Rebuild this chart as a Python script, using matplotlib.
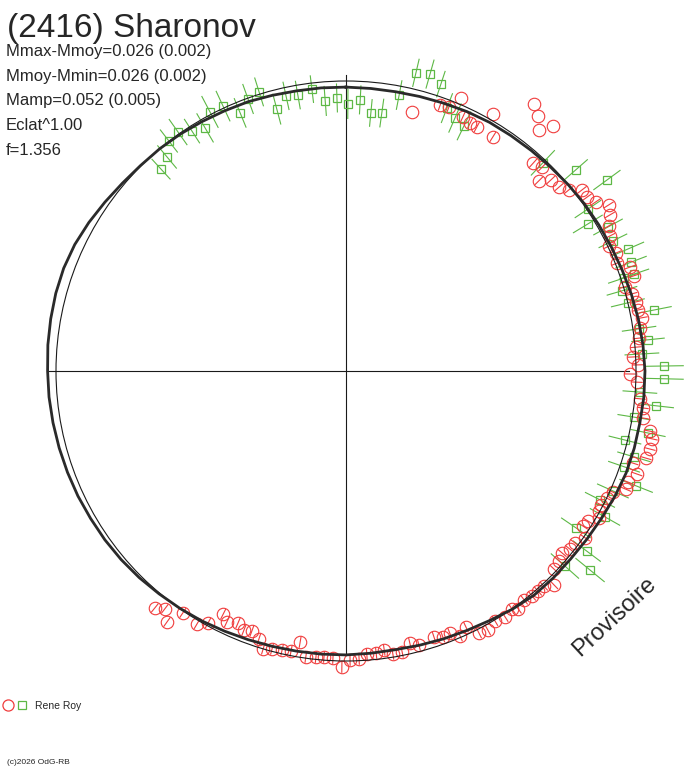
import numpy as np
import matplotlib
matplotlib.use("Agg")
import matplotlib.pyplot as plt
from matplotlib.collections import LineCollection
from matplotlib.legend_handler import HandlerTuple
from matplotlib.lines import Line2D
from matplotlib.patches import Circle

plt.rcParams['font.family'] = ['Liberation Sans', 'DejaVu Sans']

# phase as angle in degrees (clockwise from top), dmag = radial deviation in mag
fit_phase = [0, 5, 10, 15, 20, 25, 30, 35, 40, 45, 50, 55, 60, 65, 70, 75, 80, 85,
             90, 95, 100, 105, 110, 115, 120, 125, 130, 135, 140, 145, 150, 155, 160, 165, 170, 175,
             180, 185, 190, 195, 200, 205, 210, 215, 220, 225, 230, 235, 240, 245, 250, 255, 260, 265,
             270, 275, 280, 285, 290, 295, 300, 305, 310, 315, 320, 325, 330, 335, 340, 345, 350, 355]
fit_dmag = [-0.021, -0.022, -0.022, -0.020, -0.017, -0.013, -0.010, -0.009, -0.007, -0.004,
            0.000, 0.004, 0.007, 0.010, 0.014, 0.019, 0.024, 0.028, 0.031, 0.031,
            0.029, 0.029, 0.028, 0.023, 0.017, 0.013, 0.010, 0.010, 0.009, 0.002,
            -0.007, -0.013, -0.017, -0.021, -0.024, -0.023, -0.021, -0.020, -0.019, -0.017,
            -0.014, -0.010, -0.005, -0.001, 0.003, 0.008, 0.012, 0.015, 0.017, 0.020,
            0.022, 0.024, 0.026, 0.028, 0.029, 0.032, 0.034, 0.036, 0.036, 0.032,
            0.024, 0.015, 0.007, 0.002, 0.000, -0.003, -0.007, -0.010, -0.012, -0.016,
            -0.019, -0.020]

# green squares
g_phase = [317.5, 320.1, 322.4, 324.9, 327.3, 329.9, 332.3, 335.1, 337.7, 340.2,
           342.7, 345.2, 347.7, 350.1, 353.1, 355.6, 358.1, 0.4, 3.0, 5.5,
           7.9, 10.9, 13.2, 15.8, 18.3, 21.0, 23.3, 25.7, 43.4, 48.8,
           53.8, 56.2, 58.7, 61.2, 64.0, 66.6, 69.1, 71.4, 71.5, 73.8,
           76.4, 78.8, 81.8, 84.1, 86.7, 89.1, 91.4, 94.1, 96.4, 99.1,
           101.6, 103.9, 106.6, 109.0, 111.6, 114.2, 116.9, 119.4, 124.3, 126.8,
           131.7, 129.2]
g_dmag = [-0.056, -0.038, 0.001, 0.007, -0.017, -0.031, 0.009, 0.007, -0.038, -0.003,
          0.008, -0.066, -0.029, -0.034, -0.021, -0.066, -0.058, -0.079, -0.064, -0.106,
          -0.102, -0.031, 0.056, 0.064, 0.042, -0.029, -0.050, -0.062, -0.012, 0.053,
          0.115, 0.004, -0.024, 0.031, 0.024, 0.060, 0.052, 0.048, 0.011, -0.009,
          0.000, 0.083, 0.021, 0.047, 0.022, 0.097, 0.097, 0.016, 0.076, 0.006,
          0.063, -0.009, 0.036, 0.014, 0.076, 0.009, -0.018, 0.025, -0.040, 0.037,
          0.011, 0.086]
g_err = [0.048, 0.052, 0.050, 0.055, 0.050, 0.058, 0.062, 0.058, 0.055, 0.055,
         0.052, 0.055, 0.050, 0.050, 0.048, 0.052, 0.050, 0.052, 0.050, 0.048,
         0.050, 0.052, 0.050, 0.052, 0.048, 0.055, 0.055, 0.055, 0.060, 0.055,
         0.058, 0.055, 0.060, 0.058, 0.055, 0.060, 0.058, 0.055, 0.058, 0.055,
         0.060, 0.062, 0.060, 0.058, 0.060, 0.068, 0.068, 0.060, 0.062, 0.058,
         0.062, 0.058, 0.060, 0.058, 0.062, 0.060, 0.058, 0.060, 0.062, 0.060,
         0.065, 0.065]

# red circles
r_phase = [14.3, 19.5, 21.3, 22.8, 24.7, 26.6, 28.2, 29.8, 32.1, 35.1,
           37.0, 38.7, 40.2, 42.0, 43.9, 45.4, 47.0, 49.2, 50.9, 52.5,
           54.2, 55.9, 57.7, 59.4, 61.1, 62.9, 64.6, 66.4, 68.3, 69.9,
           71.7, 73.2, 74.9, 76.6, 78.2, 79.8, 81.7, 83.6, 85.3, 87.2,
           88.8, 90.6, 92.2, 95.4, 97.1, 99.0, 101.2, 102.5, 104.4, 106.2,
           107.8, 109.5, 111.5, 112.9, 114.4, 116.0, 117.7, 118.9, 120.2, 121.8,
           123.2, 124.9, 126.9, 128.5, 130.1, 131.7, 133.6, 135.8, 137.4, 138.9,
           140.4, 142.1, 144.1, 145.1, 147.1, 149.2, 151.3, 153.1, 154.9, 156.7,
           158.4, 160.0, 161.7, 165.1, 166.8, 168.7, 170.6, 172.2, 173.9, 175.8,
           177.4, 179.2, 180.8, 182.6, 184.4, 186.0, 188.0, 189.6, 191.1, 192.9,
           194.9, 196.6, 198.0, 199.9, 201.5, 203.2, 205.4, 206.8, 208.7, 210.5,
           214.0, 215.5, 217.3, 218.9]
r_dmag = [-0.078, -0.027, -0.023, 0.021, -0.036, -0.044, -0.045, 0.021, -0.047, 0.126,
          0.101, 0.065, 0.106, -0.036, -0.024, -0.066, -0.034, -0.029, -0.010, 0.026,
          0.025, 0.041, 0.072, 0.057, 0.036, 0.022, 0.004, 0.016, 0.006, 0.043,
          0.046, 0.005, 0.021, 0.028, 0.029, 0.037, 0.025, 0.017, 0.003, -0.009,
          0.007, -0.021, 0.004, 0.018, 0.032, 0.037, 0.069, 0.081, 0.082, 0.077,
          0.039, 0.064, 0.045, 0.048, 0.011, 0.001, -0.007, -0.003, 0.009, -0.018,
          -0.023, 0.005, -0.012, -0.013, -0.026, -0.016, -0.010, 0.029, 0.008, 0.007,
          0.007, 0.000, 0.012, 0.001, 0.010, 0.003, 0.019, 0.013, -0.025, -0.005,
          -0.028, -0.024, -0.034, -0.022, -0.036, -0.012, -0.011, -0.029, -0.022, -0.021,
          -0.006, -0.003, 0.021, -0.009, -0.011, -0.008, -0.004, -0.052, -0.016, -0.013,
          -0.008, 0.000, -0.028, -0.047, -0.040, -0.055, -0.042, -0.061, -0.009, 0.012,
          0.006, 0.063, 0.031, 0.050]
r_err = [0.0, 0.020, 0.020, 0.0, 0.020, 0.020, 0.020, 0.0, 0.020, 0.0,
         0.0, 0.0, 0.0, 0.020, 0.020, 0.020, 0.020, 0.020, 0.020, 0.020,
         0.020, 0.020, 0.020, 0.020, 0.020, 0.020, 0.020, 0.020, 0.020, 0.020,
         0.020, 0.020, 0.020, 0.020, 0.020, 0.020, 0.020, 0.020, 0.020, 0.020,
         0.020, 0.020, 0.020, 0.020, 0.020, 0.020, 0.020, 0.020, 0.020, 0.020,
         0.020, 0.020, 0.020, 0.020, 0.020, 0.020, 0.020, 0.020, 0.020, 0.020,
         0.020, 0.020, 0.020, 0.020, 0.020, 0.020, 0.020, 0.020, 0.020, 0.020,
         0.020, 0.020, 0.020, 0.020, 0.020, 0.020, 0.020, 0.020, 0.020, 0.020,
         0.020, 0.020, 0.020, 0.020, 0.020, 0.020, 0.020, 0.020, 0.020, 0.020,
         0.020, 0.020, 0.020, 0.020, 0.020, 0.020, 0.020, 0.020, 0.020, 0.020,
         0.020, 0.020, 0.020, 0.020, 0.020, 0.020, 0.020, 0.020, 0.020, 0.020,
         0.020, 0.020, 0.020, 0.020]

title = "(2416) Sharonov"
stats = ["Mmax-Mmoy=0.026 (0.002)", "Mmoy-Mmin=0.026 (0.002)",
         "Mamp=0.052 (0.005)", "Eclat^1.00", "f=1.356"]
observer = "Rene Roy"

RED = '#f03c3c'
GREEN = '#5db845'
DARK = '#262626'


def polar_xy(phase, dmag):
    a = np.radians(np.asarray(phase, dtype=float))
    r = 1.0 + np.asarray(dmag, dtype=float)
    return r * np.sin(a), r * np.cos(a)


def radial_bars(phase, dmag, err):
    a = np.radians(np.asarray(phase, dtype=float))
    r = 1.0 + np.asarray(dmag, dtype=float)
    e = np.asarray(err, dtype=float)
    segs = []
    for ai, ri, ei in zip(a, r, e):
        if ei <= 0:
            continue
        segs.append([((ri - ei) * np.sin(ai), (ri - ei) * np.cos(ai)),
                     ((ri + ei) * np.sin(ai), (ri + ei) * np.cos(ai))])
    return segs


fig = plt.figure(figsize=(6.88, 7.68), dpi=100)
ax = fig.add_axes([0, 0, 1, 1])
ax.set_xlim(-346 / 290, 342 / 290)
ax.set_ylim(-397 / 290, 371 / 290)
ax.axis('off')

# cross
ax.plot([-1.027, 0.976], [0, 0], color='#1a1a1a', lw=0.8, zorder=1)
ax.plot([0, 0], [-0.979, 1.021], color='#1a1a1a', lw=0.8, zorder=1)

# green squares with error bars
ax.add_collection(LineCollection(radial_bars(g_phase, g_dmag, g_err),
                                 colors=GREEN, linewidths=0.8, zorder=2))
gx, gy = polar_xy(g_phase, g_dmag)
ax.plot(gx, gy, ls='none', marker='s', ms=6, mfc='none', mec=GREEN, mew=0.9, zorder=3)

# red circles with error bars
ax.add_collection(LineCollection(radial_bars(r_phase, r_dmag, r_err),
                                 colors=RED, linewidths=0.8, zorder=4))
rx, ry = polar_xy(r_phase, r_dmag)
ax.plot(rx, ry, ls='none', marker='o', ms=9, mfc='none', mec=RED, mew=0.8, zorder=4)

# mean circle and fitted curve
ax.add_patch(Circle((0, 0), 1.0, fill=False, ec='#1a1a1a', lw=0.8, zorder=5))
fx, fy = polar_xy(fit_phase + fit_phase[:1], fit_dmag + fit_dmag[:1])
ax.plot(fx, fy, color='#2a2a2a', lw=2.0, solid_joinstyle='round', zorder=6)

# texts
fig.text(7 / 688, 1 - 13 / 768, title, fontsize=24, color=DARK, ha='left', va='top')
for i, s in enumerate(stats):
    fig.text(6 / 688, 1 - (51.5 + 24.7 * i) / 768, s, fontsize=12, color=DARK,
             ha='left', va='center')

fig.text(614 / 688, 1 - 617 / 768, "Provisoire", fontsize=17, color=DARK,
         rotation=43, ha='center', va='center', rotation_mode='anchor')

fig.text(7 / 688, 1 - 763 / 768, "(c)2026 OdG-RB", fontsize=6, color=DARK,
         ha='left', va='center')

h_red = Line2D([], [], ls='none', marker='o', ms=8, mfc='none', mec=RED, mew=0.9)
h_green = Line2D([], [], ls='none', marker='s', ms=6, mfc='none', mec=GREEN, mew=0.9)
fig.legend(handles=[(h_red, h_green)], labels=[observer],
           handler_map={tuple: HandlerTuple(ndivide=None, pad=0.3)},
           loc='center left', bbox_to_anchor=(0.0, 1 - 706 / 768),
           frameon=False, fontsize=7.5, handlelength=2.4, handletextpad=0.75,
           borderpad=0.0, borderaxespad=0.2, labelcolor=DARK)

fig.savefig("out.png", dpi=100)
